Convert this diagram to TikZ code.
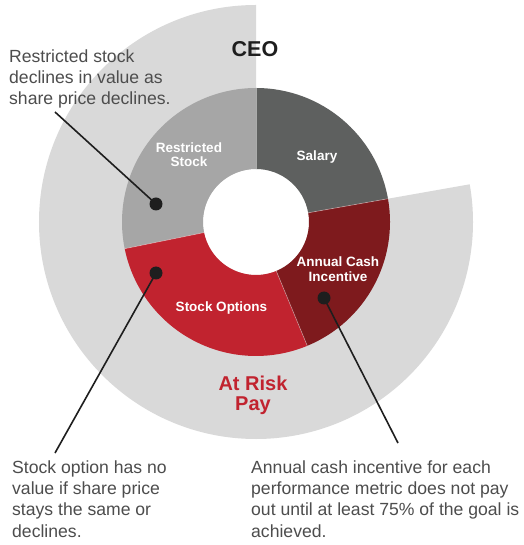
\documentclass[tikz,border=0pt]{standalone}
\usepackage{fontspec}
\setmainfont{Liberation Sans}
\definecolor{ringgray}{HTML}{D9D9D9}
\definecolor{rsgray}{HTML}{A6A6A6}
\definecolor{salgray}{HTML}{5E605F}
\definecolor{cashred}{HTML}{7E1A1D}
\definecolor{optred}{HTML}{C1232F}
\definecolor{notegray}{HTML}{4D4D4D}
\definecolor{inkblack}{HTML}{1E1E1E}
\begin{document}
\begin{tikzpicture}[x=1pt,y=1pt,
  seglabel/.style={text=white, font=\bfseries\fontsize{13.5}{14}\selectfont, inner sep=0pt, align=center},
  note/.style={text=notegray, font=\fontsize{17.6}{21.3}\selectfont, inner sep=0pt, align=left, anchor=base west},
  dot/.style={circle, fill=inkblack, minimum size=13pt, inner sep=0pt},
  leader/.style={draw=inkblack, line width=1.6pt},
  sep/.style={draw=white, draw opacity=0.45, line width=0.6pt}
]
% canvas, origin at the centre of the ring
\fill[white] (-256,-323) rectangle (267,222);
\useasboundingbox (-256,-323) rectangle (267,222);

% outer band for the at-risk part
\fill[ringgray] (0,0) -- (90:217) arc[start angle=90, end angle=370, radius=217] -- cycle;

% pay mix ring: inner radius 53, outer radius 134
\def\ri{53}\def\ro{134}
\fill[white] (0,0) circle[radius=\ri];
\fill[salgray] (10:\ri) -- (10:\ro) arc[start angle=10, end angle=90, radius=\ro] -- (90:\ri) arc[start angle=90, end angle=10, radius=\ri] -- cycle;
\fill[rsgray] (90:\ri) -- (90:\ro) arc[start angle=90, end angle=191.5, radius=\ro] -- (191.5:\ri) arc[start angle=191.5, end angle=90, radius=\ri] -- cycle;
\fill[optred] (191.5:\ri) -- (191.5:\ro) arc[start angle=191.5, end angle=292.5, radius=\ro] -- (292.5:\ri) arc[start angle=292.5, end angle=191.5, radius=\ri] -- cycle;
\fill[cashred] (292.5:\ri) -- (292.5:\ro) arc[start angle=292.5, end angle=370, radius=\ro] -- (370:\ri) arc[start angle=370, end angle=292.5, radius=\ri] -- cycle;
\foreach \a in {10,90,191.5,292.5} \draw[sep] (\a:\ri) -- (\a:\ro);

% headings (multi-line nodes are placed by the baseline of their last line)
\node[anchor=base, inner sep=0pt, text=inkblack, font=\bfseries\fontsize{21.5}{22}\selectfont] (ceo) at (-1,165) {CEO};
\node[anchor=base, inner sep=0pt, text=optred, align=center, font=\bfseries\fontsize{20}{20}\selectfont] (risk) at (-3,-188) {At Risk\\Pay};

% segment labels
\node[seglabel, anchor=base] (salary) at (61,61) {Salary};
\node[seglabel, anchor=base] (restricted) at (-67,55) {Restricted\\Stock};
\node[seglabel, anchor=base, font=\bfseries\fontsize{13.5}{15}\selectfont] (cash) at (82,-60) {Annual Cash\\Incentive};
\node[seglabel, anchor=base] (options) at (-34.5,-89) {Stock Options};

% markers
\node[dot] (rsdot) at (-100,18) {};
\node[dot] (optdot) at (-100,-51) {};
\node[dot] (cashdot) at (68,-76) {};

% notes
\node[note] (rsnote) at (-247,117) {Restricted stock\\declines in value as\\share price declines.};
\node[note] (optnote) at (-244,-315) {Stock option has no\\value if share price\\stays the same or\\declines.};
\node[note] (cashnote) at (-5,-315) {Annual cash incentive for each\\performance metric does not pay\\out until at least 75\% of the goal is\\achieved.};

% leader lines
\coordinate (rsend) at (-201,110);
\coordinate (optend) at (-201,-231);
\coordinate (cashend) at (142,-221);
\draw[leader] (rsend) -- (rsdot.center);
\draw[leader] (optend) -- (optdot.center);
\draw[leader] (cashend) -- (cashdot.center);
\end{tikzpicture}
\end{document}
